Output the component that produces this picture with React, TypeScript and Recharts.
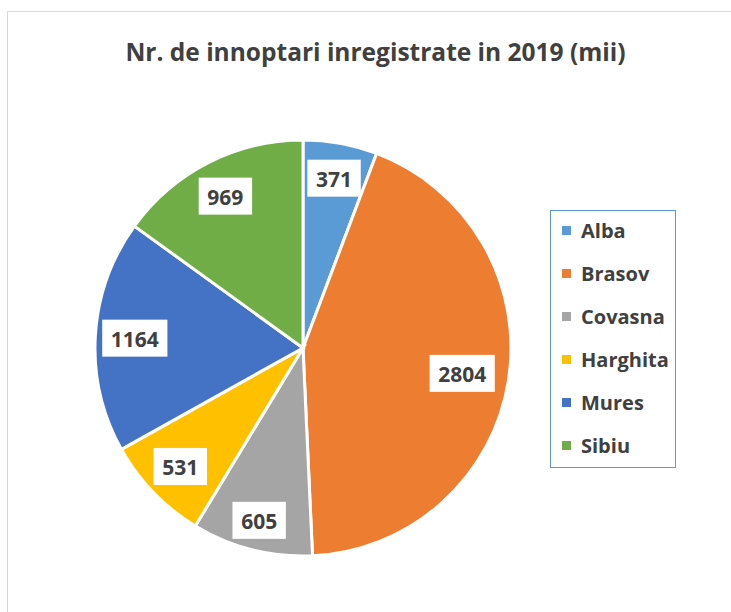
import React from "react";
import { PieChart, Pie, Cell } from "recharts";

const categories = ["Alba", "Brasov", "Covasna", "Harghita", "Mures", "Sibiu"];
const values = [371, 2804, 605, 531, 1164, 969];
const colors = ["#5B9BD5", "#ED7D31", "#A5A5A5", "#FFC000", "#4472C4", "#70AD47"];
const title = "Nr. de innoptari inregistrate in 2019 (mii)";

const data = categories.map((name, i) => ({ name, value: values[i] }));

// layout: how far from the centre each data label sits (fraction of radius), like Excel's best fit
const labelRadiusFactor = [0.83, 0.775, 0.855, 0.82, 0.81, 0.82];

const FONT = "'Open Sans', sans-serif";
const TEXT = "#404040";
const RAD = Math.PI / 180;

const renderLabel = (props: any) => {
  const { cx, cy, midAngle, outerRadius, value, index } = props;
  const r = outerRadius * (labelRadiusFactor[index] ?? 0.82);
  const x = cx + r * Math.cos(-midAngle * RAD);
  const y = cy + r * Math.sin(-midAngle * RAD);
  const s = String(value);
  const w = s.length * 11.8 + 18;
  const h = 37;
  return (
    <g>
      <rect x={x - w / 2} y={y - h / 2} width={w} height={h} fill="#ffffff" />
      <text
        x={x}
        y={y + 1}
        textAnchor="middle"
        dominantBaseline="central"
        fontFamily={FONT}
        fontWeight={700}
        fontSize={21}
        fill={TEXT}
      >
        {s}
      </text>
    </g>
  );
};

export default function App() {
  return (
    <div style={{ position: "absolute", left: 0, top: 0, width: 731, height: 612, overflow: "hidden", background: "#fff" }}>
      <div
        style={{
          position: "absolute",
          left: 7,
          top: 11,
          width: 760,
          height: 640,
          border: "1px solid #d9d9d9",
          boxSizing: "border-box",
        }}
      />
      <div
        style={{
          position: "absolute",
          left: 0,
          width: 751,
          top: 33,
          textAlign: "center",
          fontFamily: FONT,
          fontWeight: 700,
          fontSize: 24.5,
          color: TEXT,
          lineHeight: "38px",
        }}
      >
        {title}
      </div>
      <div style={{ position: "absolute", left: 0, top: 0 }}>
        <PieChart width={731} height={612} margin={{ top: 0, right: 0, bottom: 0, left: 0 }}>
          <Pie
            data={data}
            dataKey="value"
            nameKey="name"
            cx={303}
            cy={348}
            outerRadius={208}
            startAngle={90}
            endAngle={-270}
            stroke="#ffffff"
            strokeWidth={3}
            label={renderLabel}
            labelLine={false}
            isAnimationActive={false}
          >
            {data.map((d, i) => (
              <Cell key={d.name} fill={colors[i]} />
            ))}
          </Pie>
        </PieChart>
      </div>
      <div
        style={{
          position: "absolute",
          left: 550,
          top: 210,
          width: 126,
          height: 258,
          border: "1px solid #5B9BD5",
          boxSizing: "border-box",
        }}
      >
        {categories.map((c, i) => (
          <div
            key={c}
            style={{
              position: "absolute",
              left: 11,
              top: 22 + i * 43 - 18,
              height: 30,
              display: "flex",
              alignItems: "center",
              fontFamily: FONT,
              fontWeight: 700,
              fontSize: 20,
              color: TEXT,
              whiteSpace: "nowrap",
            }}
          >
            <span style={{ display: "inline-block", width: 9, height: 9, background: colors[i], marginRight: 10 }} />
            {c}
          </div>
        ))}
      </div>
    </div>
  );
}
